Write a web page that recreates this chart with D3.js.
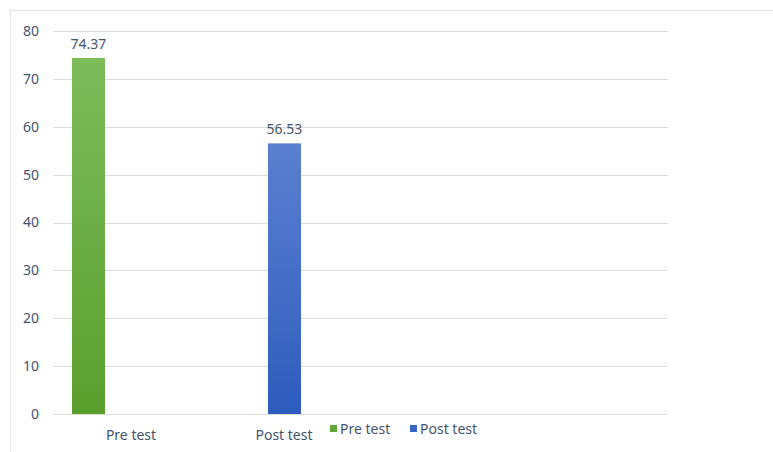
<!DOCTYPE html>
<html>
<head>
<meta charset="utf-8">
<script src="https://cdn.jsdelivr.net/npm/d3@7"></script>
<style>
  html, body { margin: 0; padding: 0; background: #fff; }
  svg { display: block; }
  text { font-family: "Noto Sans", "Open Sans", sans-serif; }
</style>
</head>
<body>
<script>
// Chart data
const categories = ["Pre test", "Post test"];
const values = [74.37, 56.53];
const yTicks = [0, 10, 20, 30, 40, 50, 60, 70, 80];
const legendLabels = ["Pre test", "Post test"];

const W = 773, H = 452;
const svg = d3.select("body").append("svg").attr("width", W).attr("height", H);

// Bar fills: lighter at the top, deeper at the base
const gradStops = [
  ["#7dbc5b", "#5a9f2e"],
  ["#5b80d1", "#2e5cbd"]
];
const legendColors = ["#62a93a", "#3a66c4"];
const textColor = "#44546a";
const defs = svg.append("defs");
gradStops.forEach((s, i) => {
  const g = defs.append("linearGradient").attr("id", "g" + i)
    .attr("x1", 0).attr("y1", 0).attr("x2", 0).attr("y2", 1);
  g.append("stop").attr("offset", "0%").attr("stop-color", s[0]);
  g.append("stop").attr("offset", "100%").attr("stop-color", s[1]);
});

// Outer chart frame (partly outside the visible area)
svg.append("rect")
  .attr("x", 10.5).attr("y", 10.5).attr("width", W + 20).attr("height", H + 20)
  .attr("fill", "none").attr("stroke", "#e3e3e3").attr("stroke-width", 1);

const plot = { left: 53, right: 668, top: 31, bottom: 414 };

const y = d3.scaleLinear().domain([0, 80]).range([plot.bottom, plot.top]);

// Gridlines
svg.append("g").selectAll("line").data(yTicks).join("line")
  .attr("x1", plot.left).attr("x2", plot.right)
  .attr("y1", d => Math.round(y(d)) + 0.5).attr("y2", d => Math.round(y(d)) + 0.5)
  .attr("stroke", "#dcdcdc").attr("stroke-width", 1);

// Y axis labels
const yAxis = d3.axisLeft(y).tickValues(yTicks).tickSize(0).tickPadding(0);
const ya = svg.append("g").attr("transform", "translate(39,0)").call(yAxis);
ya.select(".domain").remove();
ya.selectAll("text").attr("fill", textColor).style("font-size", "14px")
  .style("font-family", "'Noto Sans', sans-serif");

// Bars
const barW = 33;
const xb = d3.scalePoint().domain(categories).range([88.5, 284.5]);
svg.append("g").selectAll("rect").data(values).join("rect")
  .attr("x", (d, i) => xb(categories[i]) - barW / 2)
  .attr("y", d => y(d))
  .attr("width", barW)
  .attr("height", d => plot.bottom - y(d))
  .attr("fill", (d, i) => `url(#g${i})`);

// Value labels
svg.append("g").selectAll("text").data(values).join("text")
  .attr("x", (d, i) => xb(categories[i]))
  .attr("y", d => y(d) - 9)
  .attr("text-anchor", "middle")
  .attr("fill", textColor)
  .style("font-size", "14px")
  .text(d => d.toFixed(2));

// Category labels
const labelX = d3.scalePoint().domain(categories).range([131, 284]);
svg.append("g").selectAll("text").data(categories).join("text")
  .attr("x", d => labelX(d))
  .attr("y", 440)
  .attr("text-anchor", "middle")
  .attr("fill", textColor)
  .style("font-size", "14px")
  .text(d => d);

// Legend
const lx = [330, 410];
const lg = svg.append("g").selectAll("g").data(legendLabels).join("g")
  .attr("transform", (d, i) => `translate(${lx[i]},0)`);
lg.append("rect").attr("x", 0).attr("y", 425).attr("width", 7).attr("height", 7)
  .attr("fill", (d, i) => legendColors[i]);
lg.append("text").attr("x", 10).attr("y", 434)
  .attr("fill", textColor).style("font-size", "14px").text(d => d);
</script>
</body>
</html>
